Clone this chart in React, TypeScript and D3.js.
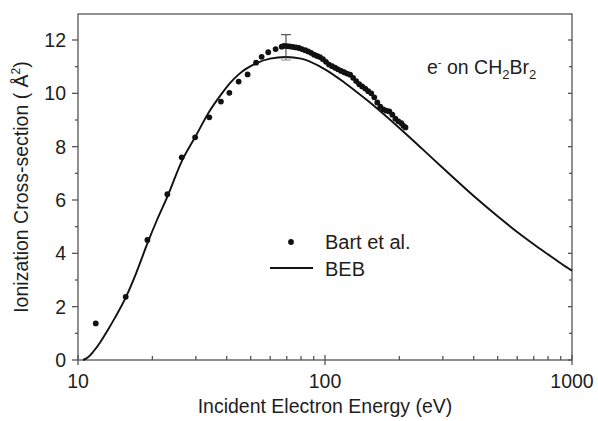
import React from "react";
import * as d3 from "d3";

// Bart et al. measured points (energy eV, cross-section A^2)
const bartEnergy = [
  11.8, 15.6, 19.1, 23.0, 26.3, 29.8, 34.0, 37.9, 41.0, 44.7, 48.6, 52.6, 55.4, 58.9, 63.1, 66.8,
  68.3, 70.2, 72.0, 74.1, 76.2, 78.4, 80.6, 83.1, 85.4, 87.8, 90.3, 92.9, 95.4, 98.1, 100.9, 103.8,
  106.8, 109.8, 112.9, 116.2, 119.5, 122.9, 126.4, 130.0, 133.7, 137.5, 141.4, 145.5, 149.6, 153.9,
  158.3, 162.8, 167.4, 172.2, 177.1, 182.2, 187.4, 192.7, 198.2, 203.9, 207.8, 211.8,
];
const bartSigma = [
  1.37, 2.37, 4.5, 6.22, 7.6, 8.35, 9.1, 9.69, 10.02, 10.44, 10.71, 11.15, 11.37, 11.54, 11.66, 11.75,
  11.78, 11.77, 11.76, 11.74, 11.72, 11.7, 11.66, 11.62, 11.57, 11.52, 11.45, 11.4, 11.36, 11.28, 11.18,
  11.08, 11.02, 10.96, 10.9, 10.84, 10.79, 10.74, 10.7, 10.58, 10.46, 10.34, 10.26, 10.18, 10.08, 10.0,
  9.85, 9.66, 9.5, 9.4, 9.35, 9.32, 9.2, 9.05, 8.95, 8.88, 8.78, 8.72,
];

// BEB theory curve
const bebEnergy = [
  10.48, 10.98, 11.5, 12.27, 13.1, 14.12, 15.6, 17.17, 19.15, 20.88, 22.99, 26.3, 29.77, 33.92,
  37.93, 41.24, 44.85, 52.56, 59.9, 69.5, 80, 100, 120, 150, 200, 250, 300, 400, 500, 600, 700, 800,
  900, 1000,
];
const bebSigma = [
  0, 0.1, 0.3, 0.65, 1.07, 1.59, 2.34, 3.24, 4.4, 5.25, 6.12, 7.45, 8.35, 9.3, 9.95, 10.38, 10.72,
  11.12, 11.3, 11.36, 11.3, 10.9, 10.4, 9.7, 8.7, 7.88, 7.2, 6.15, 5.39, 4.8, 4.34, 3.96, 3.63, 3.35,
];

const errorBar = { energy: 69.5, low: 11.25, high: 12.2 };
const xMajor = [10, 100, 1000];
const yMajor = [0, 2, 4, 6, 8, 10, 12];

const W = 598;
const H = 421;
const margin = { left: 78, right: 26, top: 14, bottom: 61 };
const font = "Liberation Sans, Arial, Helvetica, sans-serif";
const axisColor = "#555";
const textColor = "#1e1e1e";
const fs = 19.5;

export default function App() {
  const x = d3.scaleLog().domain([10, 1000]).range([margin.left, W - margin.right]);
  const y = d3.scaleLinear().domain([0, 12.975]).range([H - margin.bottom, margin.top]);
  const x0 = margin.left;
  const x1 = W - margin.right;
  const y0 = H - margin.bottom;
  const y1 = margin.top;

  const bebPts = bebEnergy.map((e, i) => [e, bebSigma[i]] as [number, number]);
  const line = d3
    .line<[number, number]>()
    .x((d) => x(d[0]))
    .y((d) => y(d[1]))
    .curve(d3.curveMonotoneX);

  const xMinor: number[] = [];
  [10, 100].forEach((dec) => {
    for (let k = 2; k <= 9; k++) xMinor.push(dec * k);
  });
  const yMinor = d3.range(1, 13, 2);

  return (
    <svg
      width={W}
      height={H}
      style={{ position: "absolute", left: 0, top: 0, background: "#fff" }}
      fontFamily={font}
    >
      {/* frame */}
      <rect x={x0} y={y1} width={x1 - x0} height={y0 - y1} fill="none" stroke={axisColor} strokeWidth={1.3} />

      {/* x ticks */}
      {xMajor.map((t) => (
        <g key={"xm" + t}>
          <line x1={x(t)} x2={x(t)} y1={y0 - 5} y2={y0 + 5} stroke={axisColor} strokeWidth={1.3} />
          <text x={x(t)} y={y0 + 28} textAnchor="middle" fontSize={fs} fill={textColor}>
            {t}
          </text>
        </g>
      ))}
      {xMinor.map((t) => (
        <line key={"xn" + t} x1={x(t)} x2={x(t)} y1={y0} y2={y0 - 4} stroke={axisColor} strokeWidth={1.3} />
      ))}

      {/* y ticks */}
      {yMajor.map((t) => (
        <g key={"ym" + t}>
          <line x1={x0 - 6} x2={x0} y1={y(t)} y2={y(t)} stroke={axisColor} strokeWidth={1.3} />
          <line x1={x1 - 4} x2={x1} y1={y(t)} y2={y(t)} stroke={axisColor} strokeWidth={1.3} />
          <text x={x0 - 12} y={y(t) + 7} textAnchor="end" fontSize={fs} fill={textColor}>
            {t}
          </text>
        </g>
      ))}
      {yMinor.map((t) => (
        <g key={"yn" + t}>
          <line x1={x0 - 3} x2={x0} y1={y(t)} y2={y(t)} stroke={axisColor} strokeWidth={1.3} />
          <line x1={x1 - 3} x2={x1} y1={y(t)} y2={y(t)} stroke={axisColor} strokeWidth={1.3} />
        </g>
      ))}

      {/* axis titles */}
      <text x={(x0 + x1) / 2} y={413} textAnchor="middle" fontSize={fs} fill={textColor}>
        Incident Electron Energy (eV)
      </text>
      <text
        transform={`translate(28,${(y0 + y1) / 2}) rotate(-90)`}
        textAnchor="middle"
        fontSize={fs}
        fill={textColor}
      >
        Ionization Cross-section ( Å
        <tspan fontSize={12} dy={-8}>2</tspan>
        <tspan dy={8}>)</tspan>
      </text>

      {/* BEB curve */}
      <path d={line(bebPts) || ""} fill="none" stroke="#111" strokeWidth={1.9} />

      {/* error bar */}
      <g stroke="#444" strokeWidth={1.1}>
        <line x1={x(errorBar.energy)} x2={x(errorBar.energy)} y1={y(errorBar.low)} y2={y(errorBar.high)} />
        <line x1={x(errorBar.energy) - 5} x2={x(errorBar.energy) + 5} y1={y(errorBar.high)} y2={y(errorBar.high)} />
        <line x1={x(errorBar.energy) - 5} x2={x(errorBar.energy) + 5} y1={y(errorBar.low)} y2={y(errorBar.low)} stroke="#999" />
      </g>

      {/* data points */}
      {bartEnergy.map((e, i) => (
        <circle key={"p" + i} cx={x(e)} cy={y(bartSigma[i])} r={2.9} fill="#111" />
      ))}

      {/* annotation */}
      <text x={427} y={74} fontSize={fs} fill={textColor}>
        e<tspan fontSize={11} dy={-8}>-</tspan>
        <tspan dy={8}> on CH</tspan>
        <tspan fontSize={13} dy={5}>2</tspan>
        <tspan dy={-5}>Br</tspan>
        <tspan fontSize={13} dy={5}>2</tspan>
      </text>

      {/* legend */}
      <circle cx={291} cy={242} r={2.9} fill="#111" />
      <text x={325} y={249} fontSize={20} fill={textColor}>
        Bart et al.
      </text>
      <line x1={270} x2={313} y1={268} y2={268} stroke="#111" strokeWidth={1.9} />
      <text x={325} y={276} fontSize={20} fill={textColor}>
        BEB
      </text>
    </svg>
  );
}
